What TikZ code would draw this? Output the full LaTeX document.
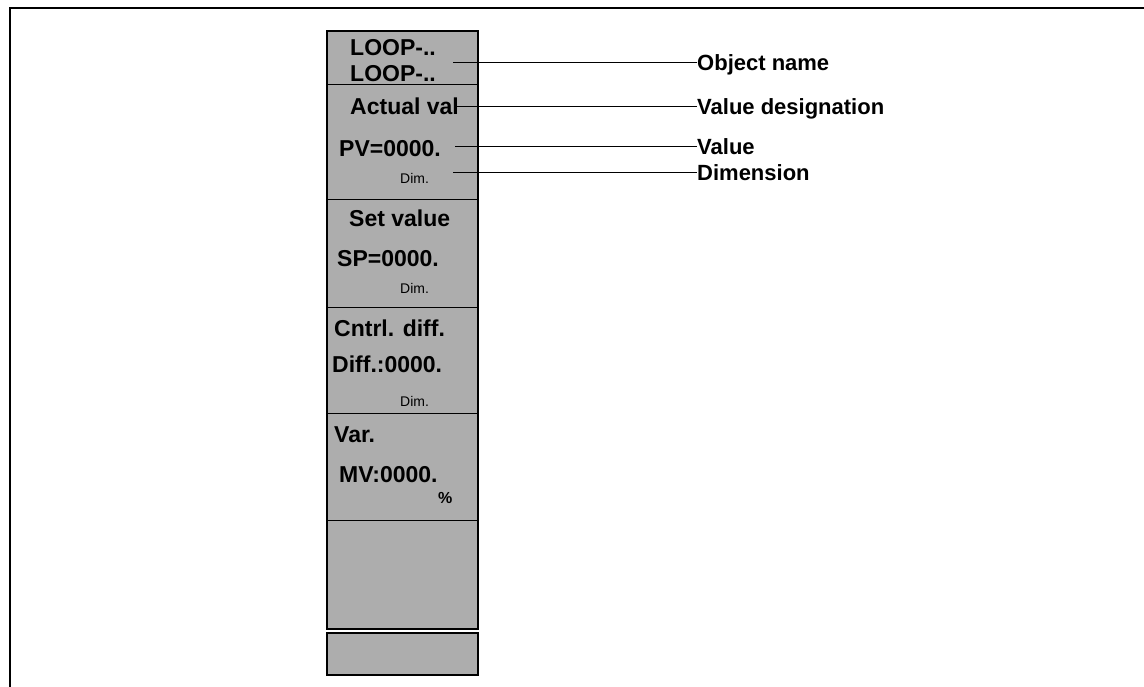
\documentclass[tikz,border=0pt]{standalone}
\usepackage{fontspec}
\setmainfont{Liberation Sans}
\begin{document}
\begin{tikzpicture}[x=1pt,y=-1pt,
  panelfill/.style={fill=black!32, draw=black, line width=1.3pt},
  divider/.style={draw=black, line width=1pt},
  ptext/.style={anchor=base west, inner sep=0pt, font=\bfseries\fontsize{23}{26}\selectfont},
  psmall/.style={anchor=base west, inner sep=0pt, font=\fontsize{14}{16}\selectfont},
  lab/.style={anchor=west, inner sep=0pt, text height=15.6pt, text depth=0pt, font=\bfseries\fontsize{22}{26}\selectfont},
  leader/.style={draw=black, line width=1pt}]
\useasboundingbox (0,0) rectangle (1144,687);
% outer frame (top and left only)
\draw[line width=1.5pt] (10,687) -- (10,8) -- (1144,8);
% panel
\path[panelfill] (327,31) rectangle (478,629);
\foreach \yy in {85,200,308,413,520} \draw[divider] (327,\yy) -- (478,\yy);
\path[panelfill] (327,633) rectangle (478,675);
% panel texts
\node[ptext] (t1) at (350,56) {LOOP-..};
\node[ptext] (t2) at (350,82) {LOOP-..};
\node[ptext] (t3) at (350,115) {Actual val};
\node[ptext] (t4) at (339,157) {PV=0000.};
\node[psmall] (t5) at (400,184) {Dim.};
\node[ptext] (t6) at (349,227) {Set value};
\node[ptext] (t7) at (337,267) {SP=0000.};
\node[psmall] (t8) at (400,294) {Dim.};
\node[ptext] (t9) at (334,337) {Cntrl. diff.};
\node[ptext] (t10) at (332,372) {Diff.:0000.};
\node[psmall] (t11) at (400,406) {Dim.};
\node[ptext] (t12) at (334,442) {Var.};
\node[ptext] (t13) at (339,482) {MV:0000.};
\node[anchor=base west, inner sep=0pt, font=\bfseries\fontsize{16}{18}\selectfont] (t14) at (438,503) {\%};
% labels
\node[lab] (l1) at (697,63) {Object name};
\node[lab] (l2) at (697,107) {Value designation};
\node[lab] (l3) at (697,147) {Value};
\node[lab] (l4) at (697,173) {Dimension};
\coordinate (s1) at (453,63);
\coordinate (s2) at (456,107);
\coordinate (s3) at (455,147);
\coordinate (s4) at (453,173);
\draw[leader] (s1) -- (l1.west);
\draw[leader] (s2) -- (l2.west);
\draw[leader] (s3) -- (l3.west);
\draw[leader] (s4) -- (l4.west);
\end{tikzpicture}
\end{document}
